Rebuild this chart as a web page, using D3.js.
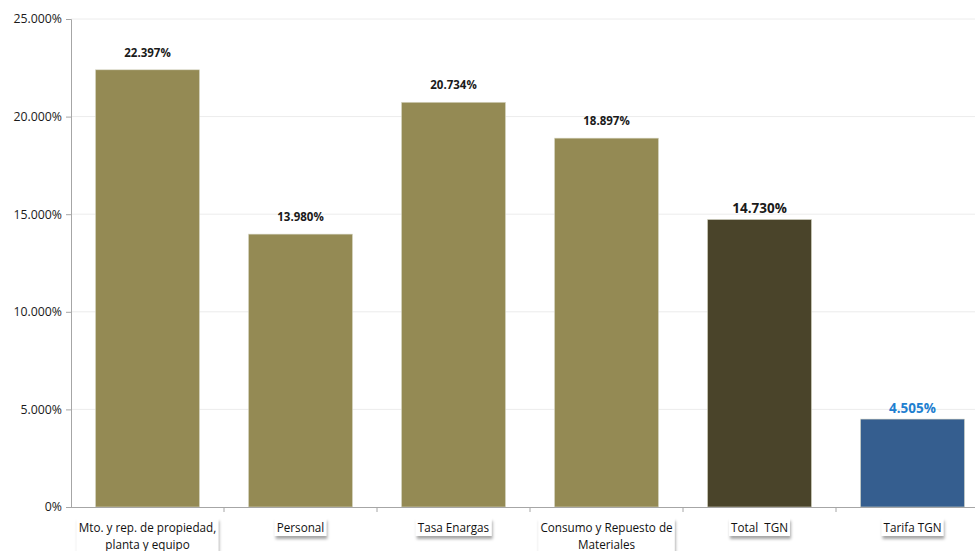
<!DOCTYPE html>
<html><head><meta charset="utf-8">
<script src="https://cdn.jsdelivr.net/npm/d3@7"></script>
<style>
html,body{margin:0;padding:0;background:#fff;}
svg{display:block;font-family:"Liberation Sans","Noto Sans",sans-serif;}
text{white-space:pre;}
</style></head>
<body><svg id="c" width="975" height="551"></svg>
<script>
const categories = [["Mto. y rep. de propiedad,","planta y equipo"],["Personal"],["Tasa Enargas"],["Consumo y Repuesto de","Materiales"],["Total  TGN"],["Tarifa TGN"]];
const values = [22.397, 13.980, 20.734, 18.897, 14.730, 4.505];
const barColors = ["#948a54","#948a54","#948a54","#948a54","#4a442a","#355e8f"];
const labelColors = ["#1a1a1a","#1a1a1a","#1a1a1a","#1a1a1a","#1a1a1a","#1f7fd0"];
const labelSizes = [12,12,12,12,14,14];
const yTicks = [0,5,10,15,20,25];

(function(){
const svg = d3.select("#c");
const defs = svg.append("defs");
const f = defs.append("filter").attr("id","sh").attr("x","-10%").attr("y","-20%").attr("width","130%").attr("height","160%");
f.append("feDropShadow").attr("dx",1).attr("dy",3).attr("stdDeviation",1.5).attr("flood-color","#000").attr("flood-opacity",0.35);

const mLeft = 71, mTop = 19, mBottom = 507, bandW = 153;
const x = d3.scaleBand().domain(d3.range(categories.length)).range([mLeft, mLeft + bandW*categories.length]).paddingInner(0.32).paddingOuter(0.16);
const y = d3.scaleLinear().domain([0,25]).range([mBottom, mTop]);

svg.append("g").selectAll("line").data(yTicks.slice(1)).join("line")
  .attr("x1", mLeft).attr("x2", 975).attr("y1", d=>y(d)).attr("y2", d=>y(d))
  .attr("stroke","#ececec").attr("stroke-width",1);

const fmt = d => d===0 ? "0%" : d3.format(".3f")(d)+"%";
const ya = svg.append("g").attr("transform",`translate(${mLeft},0)`)
  .call(d3.axisLeft(y).tickValues(yTicks).tickFormat(fmt).tickSize(5).tickPadding(4));
ya.select(".domain").attr("stroke","#a6a6a6");
ya.selectAll(".tick line").attr("stroke","#a6a6a6");
ya.selectAll(".tick text").attr("fill","#1a1a1a").attr("font-family","'Open Sans',sans-serif").attr("font-size",12.3);

svg.append("g").selectAll("rect").data(values).join("rect")
  .attr("x",(d,i)=>x(i)).attr("width",x.bandwidth())
  .attr("y",d=>y(d)).attr("height",d=>y(0)-y(d))
  .attr("fill",(d,i)=>barColors[i]).attr("stroke","#d9d9c8").attr("stroke-width",0.6);

const xb = d3.scaleLinear().domain([0,categories.length]).range([mLeft, mLeft+bandW*categories.length]);
svg.append("line").attr("x1",mLeft).attr("x2",975).attr("y1",mBottom+0.5).attr("y2",mBottom+0.5).attr("stroke","#a6a6a6");
svg.append("g").selectAll("line").data(d3.range(1,categories.length)).join("line")
  .attr("x1",d=>xb(d)).attr("x2",d=>xb(d)).attr("y1",mBottom).attr("y2",mBottom+5).attr("stroke","#a6a6a6");

svg.append("g").selectAll("text").data(values).join("text")
  .attr("x",(d,i)=>x(i)+x.bandwidth()/2).attr("y",(d,i)=>y(d)-(labelSizes[i]>12?6:13))
  .attr("text-anchor","middle").attr("font-weight","bold")
  .attr("font-family","'Open Sans',sans-serif")
  .attr("font-size",(d,i)=>labelSizes[i]-0.5).attr("fill",(d,i)=>labelColors[i])
  .text(d=>d3.format(".3f")(d)+"%");

const cg = svg.append("g").selectAll("g").data(categories).join("g")
  .attr("transform",(d,i)=>`translate(${x(i)+x.bandwidth()/2},0)`);
cg.each(function(lines){
  const g = d3.select(this);
  const t = g.append("text").attr("text-anchor","middle").attr("font-size",11.7)
    .attr("font-family","'Open Sans',sans-serif").attr("fill","#111")
    .attr("xml:space","preserve");
  lines.forEach((l,k)=>t.append("tspan").attr("x",0).attr("y",532+k*17).text(l));
  const bb = t.node().getBBox();
  g.insert("rect","text").attr("x",bb.x-2).attr("y",bb.y-1).attr("width",bb.width+4).attr("height",bb.height+2)
    .attr("fill","#fff").attr("filter","url(#sh)");
});
})();
</script></body></html>
